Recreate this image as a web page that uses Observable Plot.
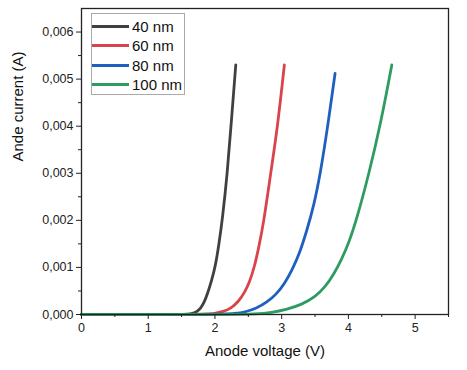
<!DOCTYPE html>
<html><head><meta charset="utf-8">
<script src="https://cdn.jsdelivr.net/npm/d3@7"></script>
<script src="https://cdn.jsdelivr.net/npm/@observablehq/plot@0.6"></script>
<style>
body{margin:0;background:#fff;font-family:"Liberation Sans",Arial,sans-serif;}
#wrap{position:relative;width:467px;height:370px;}
#legend{position:absolute;left:91px;top:13px;width:94px;height:82px;border:1px solid #aaa;background:#fff;box-sizing:border-box;font-size:15px;color:#111;}
#legend .row{position:absolute;left:0;height:20px;display:flex;align-items:center;}
#legend .sw{width:37px;height:3px;margin-left:0px;margin-right:3px;}
</style></head>
<body><div id="wrap"><div id="legend"></div></div>
<script>
const series = ["40 nm","60 nm","80 nm","100 nm"];
const colors = ["#404040","#d8434c","#1f5fc0","#2e9c62"];
const v40  = [0,1.5,1.64,1.72,1.78,1.84,1.89,1.95,2.01,2.06,2.11,2.185,2.24,2.312];
const i40  = [0,0,0.00001,0.00005,0.00012,0.00026,0.00045,0.00072,0.00105,0.0015,0.002,0.003,0.004,0.0053];
const v60  = [0,1.85,2.0,2.12,2.24,2.35,2.45,2.52,2.59,2.66,2.73,2.835,2.94,3.04];
const i60  = [0,0,0.00002,0.00006,0.00013,0.00027,0.00048,0.0007,0.001,0.00145,0.00195,0.003,0.004,0.0053];
const v80  = [0,2.1,2.3,2.45,2.62,2.78,2.92,3.04,3.15,3.27,3.38,3.48,3.58,3.68,3.80];
const i80  = [0,0,0.00002,0.00005,0.00013,0.00026,0.00043,0.00065,0.00093,0.0013,0.0018,0.0023,0.003,0.0039,0.00512];
const v100 = [0,2.3,2.6,2.85,3.08,3.3,3.5,3.65,3.78,3.9,4.0,4.12,4.31,4.49,4.65];
const i100 = [0,0,0.00001,0.00004,0.00011,0.00021,0.00037,0.00058,0.00085,0.00118,0.0015,0.002,0.003,0.0041,0.0053];
const xTicks = [0,1,2,3,4,5];
const yTicks = [0,0.001,0.002,0.003,0.004,0.005,0.006];
const xMinor = [0.5,1.5,2.5,3.5,4.5,5.5];
const yMinor = [0.0005,0.0015,0.0025,0.0035,0.0045,0.0055];

const vs=[v40,v60,v80,v100], is=[i40,i60,i80,i100];
const data = [];
series.forEach((s,k)=>vs[k].forEach((v,j)=>data.push({s,v,i:is[k][j]})));
const fmt = d => d3.format(".3f")(d).replace(".",",");

const plot = Plot.plot({
  width:467,height:370,
  marginLeft:81,marginRight:19,marginTop:8,marginBottom:56,
  style:{fontFamily:"Liberation Sans, Arial, sans-serif",fontSize:"12.5px",color:"#222",background:"#fff"},
  x:{domain:[0,5.5],label:null},
  y:{domain:[0,0.0065],label:null},
  color:{domain:series,range:colors},
  marks:[
    Plot.line(data,{x:"v",y:"i",z:"s",stroke:"s",strokeWidth:2.8,curve:"basis"}),
    Plot.frame({stroke:"#222",strokeWidth:1.3}),
    Plot.axisX(xTicks,{tickSize:5,tickPadding:4,stroke:"#222",fontSize:12.5,tickFormat:d=>String(d)}),
    Plot.axisX(xMinor,{tickSize:3,stroke:"#222",tickFormat:()=>""}),
    Plot.axisY(yTicks,{tickSize:5,tickPadding:3,stroke:"#222",fontSize:12.5,tickFormat:fmt}),
    Plot.axisY(yMinor,{tickSize:3,stroke:"#222",tickFormat:()=>""}),
    Plot.text(["Anode voltage (V)"],{frameAnchor:"bottom",dy:41,fontSize:15,fill:"#111"}),
    Plot.text(["Ande current (A)"],{frameAnchor:"left",dx:-63,rotate:-90,fontSize:15,fill:"#111"})
  ]
});
document.getElementById("wrap").prepend(plot);
const lg=document.getElementById("legend");
series.forEach((s,k)=>{const r=document.createElement("div");r.className="row";r.style.top=(2+k*19.5)+"px";
 r.innerHTML=`<div class="sw" style="background:${colors[k]}"></div><span>${s}</span>`;lg.appendChild(r);});
</script></body></html>
